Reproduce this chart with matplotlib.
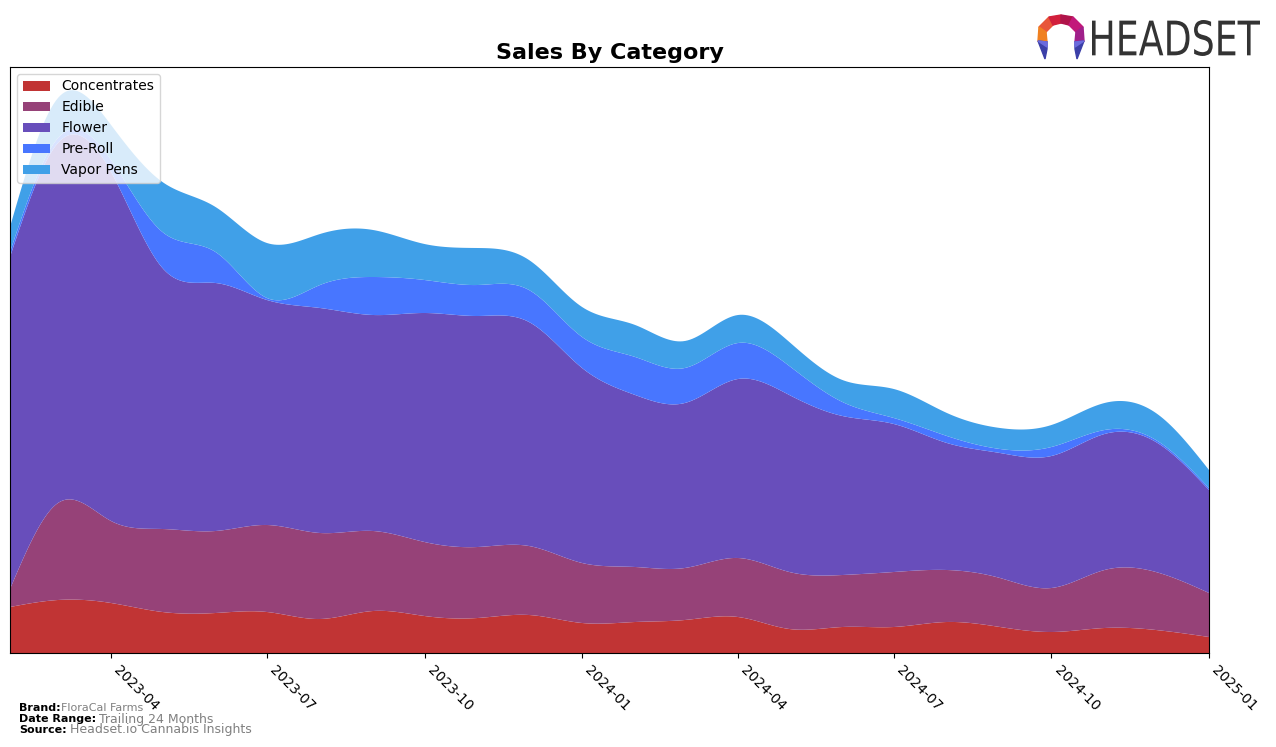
import numpy as np
import pandas as pd
import matplotlib
matplotlib.use("Agg")
import matplotlib.pyplot as plt
import matplotlib.dates as mdates
from matplotlib.patches import Polygon, PathPatch
from matplotlib.textpath import TextPath
from matplotlib.font_manager import FontProperties
from matplotlib.transforms import Affine2D

months = pd.date_range("2023-02-01", "2025-01-01", freq="MS")

categories = ["Concentrates", "Edible", "Flower", "Pre-Roll", "Vapor Pens"]
colors = ["#C13434", "#964278", "#684EBB", "#4876FF", "#40A0E8"]

concentrates = [46, 53, 50, 41, 40, 41, 34, 42, 37, 35, 38, 30,
                31, 33, 36, 24, 26, 26, 31, 26, 21, 25, 23, 16]
edible = [18, 97, 82, 83, 82, 87, 86, 80, 74, 71, 69, 60,
          55, 52, 59, 57, 52, 55, 52, 49, 44, 58, 58, 44]
flower = [332, 360, 349, 261, 248, 225, 225, 216, 229, 231, 224, 195,
          172, 165, 179, 177, 159, 148, 127, 125, 132, 136, 130, 103]
pre_roll = [5, 5, 12, 36, 31, 2, 23, 38, 33, 31, 32, 31,
            38, 35, 36, 29, 14, 6, 7, 4, 9, 4, 2, 2]
vapor_pens = [25, 40, 35, 50, 45, 55, 51, 47, 36, 37, 30, 30,
              32, 27, 28, 24, 22, 29, 23, 21, 22, 27, 27, 18]


def natural_spline(x, y, xs):
    # plain natural cubic spline, no scipy around
    x = np.asarray(x, float)
    y = np.asarray(y, float)
    n = len(x)
    h = np.diff(x)
    A = np.zeros((n, n))
    b = np.zeros(n)
    A[0, 0] = A[-1, -1] = 1
    for i in range(1, n - 1):
        A[i, i - 1] = h[i - 1]
        A[i, i] = 2 * (h[i - 1] + h[i])
        A[i, i + 1] = h[i]
        b[i] = 3 * ((y[i + 1] - y[i]) / h[i] - (y[i] - y[i - 1]) / h[i - 1])
    c = np.linalg.solve(A, b)
    idx = np.clip(np.searchsorted(x, xs) - 1, 0, n - 2)
    dx = xs - x[idx]
    bb = (y[idx + 1] - y[idx]) / h[idx] - h[idx] * (2 * c[idx] + c[idx + 1]) / 3
    d = (c[idx + 1] - c[idx]) / (3 * h[idx])
    return y[idx] + bb * dx + c[idx] * dx ** 2 + d * dx ** 3


xnum = mdates.date2num(months.to_pydatetime())
xs = np.linspace(xnum[0], xnum[-1], 500)
series = [concentrates, edible, flower, pre_roll, vapor_pens]
smooth = [np.clip(natural_spline(xnum, s, xs), 0, None) for s in series]

fig = plt.figure(figsize=(12.76, 7.47), dpi=100)
ax = fig.add_axes([10 / 1276, 94 / 747, 1199 / 1276, 586 / 747])
ax.stackplot(mdates.num2date(xs), *smooth, labels=categories, colors=colors)
ax.set_xlim(mdates.num2date(xnum[0]), mdates.num2date(xnum[-1]))
ax.set_ylim(0, 586)
ax.set_yticks([])
ax.xaxis.set_major_locator(mdates.MonthLocator(bymonth=[1, 4, 7, 10]))
ax.xaxis.set_major_formatter(mdates.DateFormatter("%Y-%m"))
plt.setp(ax.get_xticklabels(), rotation=-45, ha="left", fontsize=10)
ax.set_title("Sales By Category", fontsize=16, fontweight="bold")
ax.legend(loc="upper left", fontsize=10)

# footer
fig.text(19 / 1276, 1 - 708 / 747, "Brand:", fontsize=8, fontweight="bold", va="center")
fig.text(61 / 1276, 1 - 708 / 747, "FloraCal Farms", fontsize=8, color="gray", va="center")
fig.text(19 / 1276, 1 - 719 / 747, "Date Range:", fontsize=8, fontweight="bold", va="center")
fig.text(99 / 1276, 1 - 719 / 747, "Trailing 24 Months", fontsize=9, color="gray", va="center")
fig.text(19 / 1276, 1 - 730 / 747, "Source:", fontsize=8, fontweight="bold", va="center")
fig.text(70 / 1276, 1 - 730 / 747, "Headset.io Cannabis Insights", fontsize=9, color="gray", va="center")

# logo: condensed wordmark, squeezed text path
tp = TextPath((0, 0), "HEADSET", size=40, prop=FontProperties(family="DejaVu Sans"))
ext = tp.get_extents()
sx = 168 / ext.width
sy = 36 / ext.height
tr = Affine2D().translate(-ext.x0, -ext.y0).scale(sx, sy).translate(1092, 747 - 56)
fig.patches.append(PathPatch(tp, transform=tr, color="#333333", lw=0))

lx, ly = 1061, 37


def P(pts, c):
    fig.patches.append(Polygon([((lx + px) / 1276, 1 - (ly + py) / 747) for px, py in pts],
                               closed=True, transform=fig.transFigure, color=c))


P([(-22, -10), (-12, -20), (-8, -12), (-15, -5)], "#E8563A")
P([(-12, -20), (0, -22), (0, -14), (-8, -12)], "#D21F3C")
P([(0, -22), (12, -20), (8, -12), (0, -14)], "#B0144A")
P([(12, -20), (22, -10), (15, -5), (8, -12)], "#C2187A")
P([(-22, -10), (-15, -5), (-14, 5), (-23, 4)], "#F08020")
P([(22, -10), (23, 4), (14, 5), (15, -5)], "#A0208A")
P([(-23, 4), (-14, 5), (-14, 12), (-16, 22)], "#3B3FA8")
P([(23, 4), (16, 22), (14, 12), (14, 5)], "#3B3FA8")
P([(-23, 4), (-14, 5), (-14, 10)], "#6B6BDD")
P([(23, 4), (14, 10), (14, 5)], "#6B6BDD")

fig.savefig("out.png", dpi=100)
